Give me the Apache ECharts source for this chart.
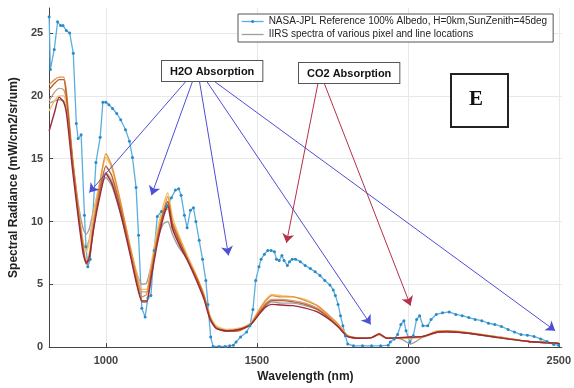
<!DOCTYPE html>
<html>
<head>
<meta charset="utf-8">
<script src="https://cdn.jsdelivr.net/npm/echarts@6/dist/echarts.min.js"></script>
<style>
  html, body { margin: 0; padding: 0; background: #fff; }
  #chart { width: 574px; height: 388px; }
</style>
</head>
<body>
<div id="chart"></div>
<script>
var refName = 'NASA-JPL Reference 100% Albedo, H=0km,SunZenith=45deg';
var iirsName = 'IIRS spectra of various pixel and line locations';

// NASA-JPL reference spectrum (nm, radiance)
var refWl = [812, 816, 829, 840, 850, 858, 869, 880, 892, 902,
  908, 918, 929, 934, 940, 948, 967, 981, 990, 1000,
  1010, 1022, 1036, 1049, 1065, 1078, 1088, 1100, 1108, 1119,
  1130, 1139, 1149, 1160, 1170, 1184, 1202, 1217, 1230, 1241,
  1249, 1260, 1269, 1280, 1290, 1298, 1309, 1320, 1331, 1338,
  1347, 1355, 1375, 1395, 1410, 1422, 1431, 1446, 1466, 1477,
  1487, 1496, 1507, 1514, 1525, 1536, 1547, 1558, 1565, 1574,
  1583, 1590, 1601, 1608, 1617, 1628, 1644, 1660, 1677, 1693,
  1709, 1725, 1742, 1753, 1760, 1769, 1777, 1785, 1793, 1801,
  1820, 1850, 1880, 1910, 1935, 1942, 1955, 1966, 1977, 1987,
  1994, 2007, 2018, 2029, 2039, 2050, 2066, 2077, 2094, 2115,
  2137, 2159, 2180, 2202, 2223, 2245, 2267, 2288, 2310, 2332,
  2353, 2375, 2396, 2418, 2440, 2461, 2483, 2499];
var refVal = [26.3, 22.1, 23.7, 25.9, 25.6, 25.6, 25.2, 25.0, 23.4, 17.8,
  16.6, 16.9, 10.5, 8.0, 6.4, 7.0, 14.7, 16.7, 19.5, 19.5,
  19.3, 19.0, 18.6, 18.1, 17.3, 16.4, 15.1, 12.7, 8.9, 3.1,
  2.4, 3.9, 4.1, 7.7, 10.4, 10.8, 11.2, 11.9, 12.5, 12.6,
  12.1, 10.5, 9.5, 10.9, 11.1, 10.0, 8.5, 7.0, 5.3, 3.4,
  0.8, 0.05, 0.05, 0.05, 0.1, 0.15, 0.4, 0.8, 1.2, 1.7,
  3.0, 5.3, 6.4, 7.0, 7.4, 7.7, 7.7, 7.6, 7.0, 6.9,
  7.3, 6.9, 6.5, 6.8, 7.0, 7.0, 6.8, 6.5, 6.25, 6.0,
  5.7, 5.3, 4.95, 4.55, 4.1, 3.4, 2.5, 1.7, 0.9, 0.25,
  0.1, 0.1, 0.1, 0.1, 0.15, 0.4, 0.65, 1.0, 1.8, 2.1,
  1.3, 0.4, 0.9, 2.2, 2.5, 1.7, 1.7, 2.2, 2.6, 2.73,
  2.8, 2.6, 2.5, 2.35, 2.2, 2.1, 1.9, 1.8, 1.65, 1.4,
  1.2, 1.0, 0.95, 0.85, 0.65, 0.45, 0.2, 0.15];

// IIRS spectra, all on the same wavelengths
var iirsWl = [812, 830, 845, 860, 870, 890, 910, 925, 935, 945,
  960, 980, 1000, 1020, 1050, 1080, 1100, 1120, 1135, 1150,
  1170, 1190, 1205, 1220, 1240, 1270, 1300, 1325, 1345, 1365,
  1400, 1440, 1480, 1510, 1530, 1550, 1580, 1620, 1660, 1700,
  1740, 1770, 1800, 1840, 1880, 1905, 1930, 1970, 2010, 2050,
  2100, 2130, 2200, 2300, 2400, 2500];
var iirsA = [20.9, 21.3, 21.5, 21.5, 20.2, 15.0, 10.8, 8.0, 6.8, 7.4,
  10.0, 13.0, 15.4, 14.4, 11.4, 8.0, 5.9, 4.0, 4.2, 6.2,
  8.8, 10.8, 12.0, 10.0, 8.8, 7.1, 5.6, 4.1, 2.4, 1.6,
  1.3, 1.4, 1.9, 3.0, 3.7, 4.1, 4.0, 4.0, 3.7, 3.3,
  2.5, 1.8, 0.9, 0.7, 0.75, 1.05, 0.7, 0.7, 0.75, 0.8,
  1.25, 1.3, 1.15, 0.8, 0.45, 0.3];
var iirsB = [18.8, 19.6, 20.0, 20.0, 19.2, 14.5, 10.8, 8.4, 7.6, 8.4,
  10.8, 13.2, 15.1, 14.2, 11.3, 8.1, 6.1, 4.6, 4.6, 6.6,
  9.3, 11.3, 12.3, 10.4, 9.0, 7.3, 5.7, 4.2, 2.5, 1.7,
  1.4, 1.5, 1.9, 3.1, 3.8, 4.2, 4.1, 4.0, 3.8, 3.3,
  2.5, 1.8, 0.95, 0.7, 0.75, 1.0, 0.7, 0.7, 0.75, 0.85,
  1.3, 1.3, 1.15, 0.8, 0.45, 0.3];
var iirsC = [20.5, 21.0, 21.3, 21.3, 19.8, 14.6, 10.4, 7.8, 6.6, 7.0,
  9.6, 12.4, 14.4, 13.6, 10.9, 7.6, 5.4, 3.7, 3.7, 5.8,
  8.5, 10.6, 11.6, 9.8, 8.6, 7.0, 5.5, 4.0, 2.3, 1.5,
  1.25, 1.3, 1.8, 2.8, 3.4, 3.7, 3.7, 3.6, 3.4, 3.0,
  2.3, 1.6, 0.85, 0.7, 0.75, 1.05, 0.7, 0.75, 0.8, 0.85,
  1.2, 1.25, 1.1, 0.75, 0.45, 0.3];
var iirsD = [17.2, 18.7, 19.9, 19.5, 18.5, 14.0, 10.0, 7.4, 6.7, 7.1,
  9.5, 12.0, 13.8, 13.0, 10.5, 7.4, 5.2, 3.6, 3.6, 5.5,
  8.2, 10.3, 11.3, 9.5, 8.3, 6.9, 5.3, 3.8, 2.2, 1.5,
  1.3, 1.4, 1.8, 2.7, 3.2, 3.4, 3.35, 3.3, 3.1, 2.8,
  2.2, 1.6, 0.85, 0.7, 0.75, 1.05, 0.7, 0.75, 0.8, 0.85,
  1.2, 1.2, 1.1, 0.75, 0.45, 0.3];
var iirsE = [19.4, 19.6, 19.7, 19.6, 18.8, 14.8, 11.2, 9.4, 9.0, 9.4,
  11.0, 12.6, 13.5, 12.8, 10.5, 7.8, 6.0, 5.0, 5.1, 6.5,
  8.5, 9.8, 10.0, 9.0, 8.0, 7.0, 5.5, 4.0, 2.3, 1.5,
  1.3, 1.4, 1.8, 2.8, 3.3, 3.6, 3.5, 3.5, 3.3, 3.0,
  2.3, 1.7, 0.85, 0.7, 0.75, 1.0, 0.7, 0.7, 0.25, 0.8,
  1.2, 1.25, 1.1, 0.8, 0.45, 0.3];
var iirsF = [19.6, 20.3, 20.6, 20.5, 19.5, 14.8, 10.6, 8.2, 8.0, 8.6,
  10.6, 12.8, 13.9, 13.2, 10.8, 7.9, 5.8, 4.4, 4.4, 6.2,
  8.8, 10.8, 11.0, 9.4, 8.4, 7.1, 5.6, 4.1, 2.4, 1.6,
  1.3, 1.4, 1.8, 2.9, 3.5, 3.8, 3.8, 3.7, 3.5, 3.1,
  2.4, 1.7, 0.9, 0.7, 0.75, 1.0, 0.7, 0.7, 0.75, 0.8,
  1.2, 1.25, 1.1, 0.8, 0.45, 0.3];

var xTicks = [1000, 1500, 2000, 2500];
var yTicks = [0, 5, 10, 15, 20, 25];

// annotation arrows, [from, to] in data units
var h2oArrows = [
  [[1270, 21.3], [945, 12.3]],
  [[1289, 21.3], [1151, 12.1]],
  [[1309, 21.3], [1406, 7.3]],
  [[1330, 21.3], [1877, 1.8]],
  [[1351, 21.3], [2488, 1.3]]
];
var co2Arrows = [
  [[1704, 21.2], [1598, 8.3]],
  [[1720, 21.2], [2009, 3.3]]
];

function zip(xs, ys) {
  return xs.map(function (x, i) { return [x, ys[i]]; });
}

function arrowLines(list, color) {
  return list.map(function (a) {
    return [
      { coord: a[0], lineStyle: { color: color }, itemStyle: { color: color } },
      { coord: a[1], itemStyle: { color: color } }
    ];
  });
}

var iirsSets = [
  { data: iirsE, color: '#a39e9b' },
  { data: iirsF, color: '#c9a088' },
  { data: iirsB, color: '#f0c36a' },
  { data: iirsA, color: '#e8913c' },
  { data: iirsC, color: '#b8602f' },
  { data: iirsD, color: '#9b2a3a' }
];

var series = [{
  name: refName,
  type: 'line',
  data: zip(refWl, refVal),
  symbol: 'circle',
  symbolSize: 3,
  lineStyle: { color: '#5aaee0', width: 1.3 },
  itemStyle: { color: '#2b8ac4' },
  markLine: {
    silent: true,
    symbol: ['none', 'arrow'],
    symbolSize: 9,
    label: { show: false },
    lineStyle: { type: 'solid', width: 1 },
    data: arrowLines(h2oArrows, '#4f4fd6').concat(arrowLines(co2Arrows, '#b5304a'))
  }
}];

iirsSets.forEach(function (s) {
  series.push({
    name: iirsName,
    type: 'line',
    data: zip(iirsWl, s.data),
    symbol: 'none',
    smooth: 0.2,
    lineStyle: { color: s.color, width: 1.4 },
    itemStyle: { color: s.color }
  });
});

var myChart = echarts.init(document.getElementById('chart'));

option = {
  backgroundColor: '#fff',
  animation: false,
  textStyle: { fontFamily: '"Liberation Sans", Arial, sans-serif' },
  grid: { left: 42, right: 9, top: 8, bottom: 33 },
  legend: {
    left: 238,
    top: 14,
    orient: 'vertical',
    backgroundColor: '#fff',
    borderColor: '#555',
    borderWidth: 1,
    padding: [2, 6, 2, 3],
    itemGap: 2,
    itemWidth: 22,
    itemHeight: 4,
    textStyle: { fontSize: 10, lineHeight: 11, color: '#222' },
    data: [
      { name: refName, lineStyle: { width: 1.3 } },
      { name: iirsName, itemStyle: { color: 'rgba(0,0,0,0)', borderWidth: 0 }, lineStyle: { color: '#a39e9b', width: 1.3 } }
    ]
  },
  xAxis: {
    type: 'value',
    min: 812,
    max: 2510,
    name: 'Wavelength (nm)',
    nameLocation: 'middle',
    nameGap: 20,
    nameTextStyle: { fontSize: 12, fontWeight: 'bold', color: '#222' },
    axisLine: { lineStyle: { color: '#444' } },
    axisTick: { inside: true, length: 4, customValues: xTicks, lineStyle: { color: '#444' } },
    axisLabel: {
      customValues: xTicks, fontSize: 11, fontWeight: 'bold', color: '#444', margin: 8,
      formatter: function (v) { return String(v); }
    },
    splitLine: { show: true, lineStyle: { color: '#e8e8e8' } }
  },
  yAxis: {
    type: 'value',
    min: 0,
    max: 27,
    name: 'Spectral Radiance (mW/cm2/sr/um)',
    nameLocation: 'middle',
    nameGap: 24,
    nameTextStyle: { fontSize: 12, fontWeight: 'bold', color: '#222' },
    axisLine: { show: true, lineStyle: { color: '#444' } },
    axisTick: { show: true, inside: true, length: 4, customValues: yTicks, lineStyle: { color: '#444' } },
    axisLabel: { customValues: yTicks, fontSize: 11, fontWeight: 'bold', color: '#444', margin: 6 },
    splitLine: { show: true, lineStyle: { color: '#e8e8e8' } }
  },
  graphic: [
    {
      type: 'text',
      left: 161,
      top: 60,
      z: 20,
      style: {
        text: 'H2O Absorption',
        font: 'bold 11px "Liberation Sans", Arial',
        fill: '#111',
        backgroundColor: '#fff',
        borderColor: '#555',
        borderWidth: 1,
        padding: [5, 8, 4, 8]
      }
    },
    {
      type: 'text',
      left: 298,
      top: 62,
      z: 20,
      style: {
        text: 'CO2 Absorption',
        font: 'bold 11px "Liberation Sans", Arial',
        fill: '#111',
        backgroundColor: '#fff',
        borderColor: '#555',
        borderWidth: 1,
        padding: [5, 8, 4, 8]
      }
    },
    {
      type: 'rect',
      left: 450,
      top: 73,
      z: 20,
      shape: { width: 57, height: 53 },
      style: { fill: '#fff', stroke: '#222', lineWidth: 2 }
    },
    {
      type: 'text',
      left: 469,
      top: 89,
      z: 21,
      style: {
        text: 'E',
        font: 'bold 21px "Liberation Serif", "Times New Roman", serif',
        fill: '#111'
      }
    }
  ],
  series: series
};

myChart.setOption(option);
window.onresize = myChart.resize;
</script>
</body>
</html>
